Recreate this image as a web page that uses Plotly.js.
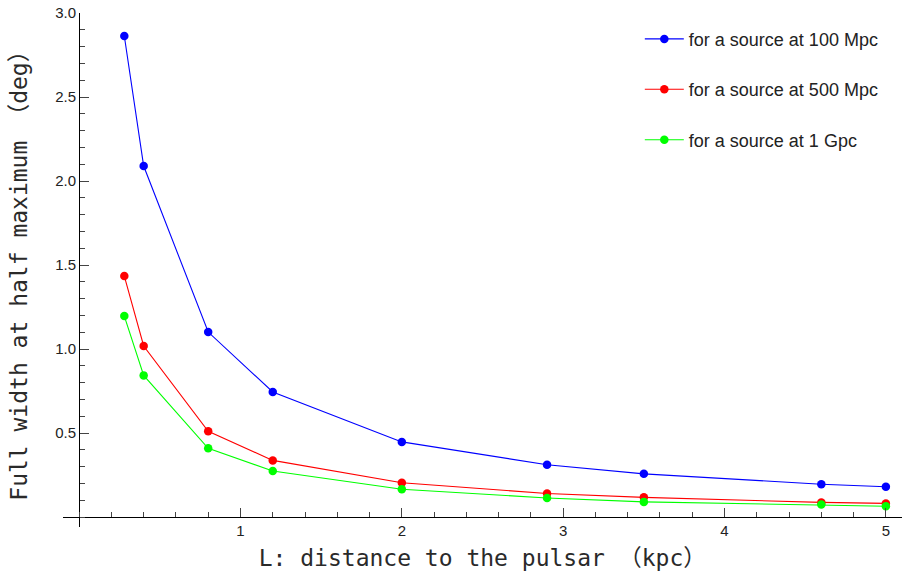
<!DOCTYPE html>
<html>
<head>
<meta charset="utf-8">
<script src="https://cdn.plot.ly/plotly-3.0.1.min.js"></script>
<style>html,body{margin:0;padding:0;background:#fff}#chart{width:902px;height:571px}</style>
</head>
<body>
<div id="chart"></div>
<script>
// Data
const distanceKpc = [0.28, 0.4, 0.8, 1.2, 2.0, 2.9, 3.5, 4.6, 5.0];
const fwhm100Mpc = [2.863, 2.089, 1.101, 0.744, 0.447, 0.311, 0.257, 0.195, 0.180];
const fwhm500Mpc = [1.434, 1.018, 0.510, 0.337, 0.204, 0.140, 0.117, 0.087, 0.081];
const fwhm1Gpc   = [1.196, 0.843, 0.409, 0.274, 0.165, 0.113, 0.090, 0.074, 0.064];
const seriesNames = ["for a source at 100 Mpc", "for a source at 500 Mpc", "for a source at 1 Gpc"];
const seriesColors = ["#0000ff", "#ff0000", "#00ff00"];
const xTickVals = [1, 2, 3, 4, 5];
const yTickVals = [0.5, 1.0, 1.5, 2.0, 2.5, 3.0];

const xRange = [-0.1, 5.1];
const yRange = [-0.0595, 3.0];

const allY = [fwhm100Mpc, fwhm500Mpc, fwhm1Gpc];
const traces = allY.map((ys, i) => ({
  type: 'scatter',
  mode: 'lines+markers',
  x: distanceKpc,
  y: ys,
  name: seriesNames[i],
  legendgroup: 'g' + i,
  line: {color: seriesColors[i], width: 1.1},
  marker: {color: seriesColors[i], size: 8.5},
  cliponaxis: false
}));

const tickFont = {family: 'Liberation Sans, Arial, sans-serif', size: 15, color: '#222'};
const titleFont = {family: 'DejaVu Sans Mono, Noto Sans CJK JP, monospace', size: 23, color: '#2a2a2a'};

const layout = {
  width: 902, height: 571,
  margin: {l: 63, r: 0, t: 13, b: 44, pad: 0},
  paper_bgcolor: '#fff', plot_bgcolor: '#fff',
  showlegend: true,
  legend: {
    x: 0.6875, y: 0.985, xanchor: 'left', yanchor: 'top',
    font: {family: 'Liberation Sans, Arial, sans-serif', size: 18, color: '#222'},
    traceorder: 'grouped', tracegroupgap: 24, itemwidth: 39,
    bgcolor: 'rgba(0,0,0,0)'
  },
  xaxis: {
    range: xRange,
    anchor: 'free',
    position: (0 - yRange[0]) / (yRange[1] - yRange[0]),
    showgrid: false, zeroline: false,
    showline: true, linecolor: '#000', linewidth: 1,
    tickmode: 'array', tickvals: xTickVals, ticktext: xTickVals.map(String),
    ticks: 'inside', ticklen: 9, tickcolor: '#444', tickwidth: 1,
    minor: {tickmode: 'linear', tick0: 0, dtick: 0.2, ticks: 'inside', ticklen: 5, tickcolor: '#444', showgrid: false},
    tickfont: tickFont,
    title: {text: 'L: distance to the pulsar （kpc）', font: titleFont, standoff: 11}
  },
  yaxis: {
    range: yRange,
    anchor: 'free',
    position: (0 - xRange[0]) / (xRange[1] - xRange[0]),
    showgrid: false, zeroline: false,
    showline: true, linecolor: '#000', linewidth: 1,
    tickmode: 'array', tickvals: yTickVals, ticktext: yTickVals.map(v => v.toFixed(1)),
    ticks: 'inside', ticklen: 9, tickcolor: '#444', tickwidth: 1,
    minor: {tickmode: 'linear', tick0: 0, dtick: 0.1, ticks: 'inside', ticklen: 5, tickcolor: '#444', showgrid: false},
    tickfont: tickFont,
    title: {text: 'Full width at half maximum （deg）', font: titleFont, standoff: 20}
  }
};

Plotly.newPlot('chart', traces, layout, {displayModeBar: false, staticPlot: true});
</script>
</body>
</html>
